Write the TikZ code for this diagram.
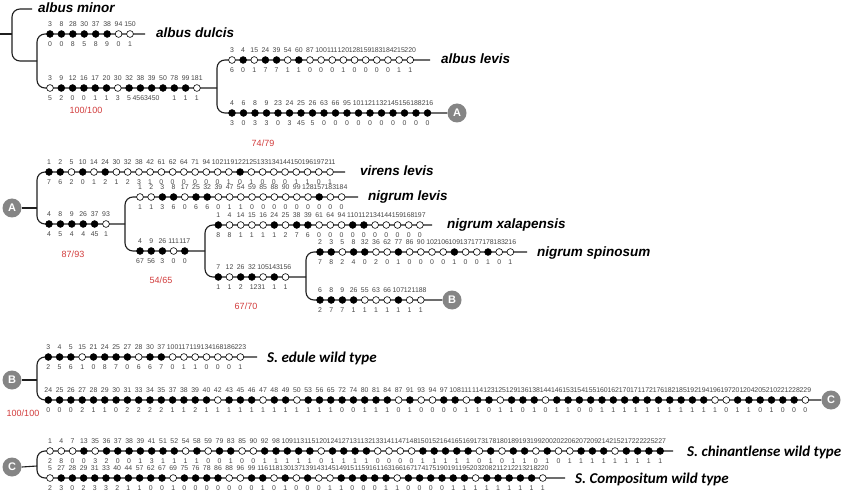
\documentclass[tikz,border=0pt]{standalone}
\usepackage{fontspec}
\newfontfamily\taxfont{Carlito}
\newfontfamily\numfont{Liberation Sans}
\usetikzlibrary{calc,backgrounds}
\colorlet{f}{black}
\colorlet{o}{white}
\definecolor{supred}{HTML}{D23C3C}
\definecolor{mkgray}{HTML}{858585}
\newcommand\crow[5]{%
  \foreach \ta/\tb/\tc [count=\i] in {#5} {%
    \pgfmathsetmacro\rowx{#2+(\i-1)*#4}%
    \node[num] (#1t\i) at (\rowx,{#3-9.5}) {\ta};
    \node[num] (#1b\i) at (\rowx,{#3+10}) {\tb};
    \node[dotn, fill=\tc] (#1d\i) at (\rowx,#3) {};
  }%
}
\tikzset{
  num/.style={font=\numfont\fontsize{6.9}{7}\selectfont, text=black!72, inner sep=0pt},
  dotn/.style={circle, draw=black, line width=0.6pt, inner sep=0pt, minimum size=6.8pt},
  br/.style={line width=1.1pt, draw=black!88},
  rc/.style={rounded corners=8pt},
  taxon/.style={font=\numfont\bfseries\itshape\fontsize{13.5}{16}\selectfont, anchor=base west, inner sep=0pt},
  taxs/.style={font=\taxfont\bfseries\itshape\fontsize{15}{18}\selectfont, anchor=base west, inner sep=0pt},
  supp/.style={font=\numfont\fontsize{9}{10}\selectfont, text=supred, inner sep=0pt},
  refmk/.style={circle, fill=mkgray, text=white, font=\numfont\bfseries\fontsize{11}{12}\selectfont, minimum size=19pt, inner sep=0pt},
}
\begin{document}
\begin{tikzpicture}[x=1pt,y=-1pt]
\useasboundingbox (0,0) rectangle (850,494);
\begin{scope}[on background layer]
\fill[white] (0,0) rectangle (850,494);
\end{scope}

% ---------------- tree 1
\coordinate (root) at (0,34);
\coordinate (minE) at (32,9);
\node[taxon] (minL) at (38,13) {albus minor};
\crow{dul}{50}{34}{11.43}{3/0/f,8/0/f,28/8/f,30/5/f,37/8/f,38/9/f,94/0/o,150/1/o}
\coordinate (dulE) at (145,34);
\node[taxon] (dulL) at (156,38) {albus dulcis};
\crow{low}{50}{88}{11.3}{3/5/o,9/2/f,12/0/f,16/0/f,17/1/f,20/1/f,30/3/o,32/5/f,38/{}/f,39/{}/f,50/{}/f,78/1/f,99/1/f,181/1/o}
\node[num] (lowX) at ($(lowb9)!0.5!(lowb10)$) {4563450};
\coordinate (lowE) at (217,88);
\node[supp] (s1) at (86,110) {100/100};
\crow{lev}{232}{60}{11.14}{3/6/o,4/0/f,15/1/o,24/7/f,39/7/f,54/1/o,60/1/f,87/0/o,100/0/o,111/0/o,120/1/o,128/0/o,159/0/o,183/0/o,184/0/o,215/1/o,220/1/o}
\coordinate (levE) at (430,60);
\node[taxon] (levL) at (441,64) {albus levis};
\crow{ar}{232}{113}{11.5}{4/3/f,6/0/f,8/3/f,9/3/f,23/0/f,24/3/f,25/45/f,26/5/f,63/0/f,66/0/f,95/0/f,101/0/f,121/0/f,132/0/f,145/0/f,156/0/f,188/0/f,216/0/f}
\node[refmk] (A1) at (457,113) {A};
\node[supp] (s2) at (263,143) {74/79};

% ---------------- tree 2
\node[refmk] (A2) at (12,208) {A};
\crow{vir}{49}{172}{11.24}{1/7/f,2/6/f,5/2/o,10/0/f,14/1/o,24/2/f,30/1/o,32/2/o,38/3/o,42/1/o,61/0/o,62/0/o,64/0/o,71/0/o,94/0/o,102/0/o,119/1/o,122/0/f,125/1/o,133/0/o,134/0/o,144/0/o,150/1/o,196/1/o,197/0/o,211/1/o}
\coordinate (virE) at (345,172);
\node[taxon] (virL) at (360,176) {virens levis};
\crow{tba}{49}{224}{11.4}{4/4/f,8/5/f,9/4/f,26/4/f,37/45/f,93/1/o}
\coordinate (tbaE) at (125,224);
\node[supp] (s3) at (73,254) {87/93};
\crow{nle}{140}{197}{11.2}{1/1/o,2/1/o,3/3/f,8/6/f,17/0/o,25/6/f,32/6/f,39/0/o,47/1/o,54/1/o,59/0/o,85/0/o,88/0/o,90/0/o,99/0/o,128/0/o,157/0/f,183/0/o,184/0/o}
\coordinate (nleE) at (358,197);
\node[taxon] (nleL) at (368,201) {nigrum levis};
\crow{tbb}{140}{251}{11.2}{4/67/f,9/56/f,26/3/f,111/0/o,117/0/f}
\coordinate (tbbE) at (205,251);
\node[supp] (s4) at (161,280) {54/65};
\crow{xal}{218.3}{225}{11.2}{1/8/f,4/8/o,14/1/o,15/1/o,16/1/o,24/1/f,25/2/o,38/7/f,39/6/f,61/0/o,64/0/o,94/0/o,110/0/f,112/0/f,134/0/o,144/0/o,159/0/o,168/0/o,197/0/o}
\coordinate (xalE) at (432,225);
\node[taxon] (xalL) at (447,229) {nigrum xalapensis};
\crow{tbc}{218.3}{277}{11.2}{7/1/f,12/1/o,26/2/f,32/{}/f,105/{}/o,143/1/f,156/1/o}
\node[num] (tbcX) at ($(tbcb4)!0.5!(tbcb5)$) {1231};
\coordinate (tbcE) at (306,277);
\node[supp] (s5) at (246,306) {67/70};
\crow{spi}{320}{252}{11.2}{2/7/f,3/8/f,5/2/o,8/4/f,32/0/f,36/2/o,62/0/o,77/1/f,86/0/o,90/0/o,102/0/o,106/0/o,109/1/f,137/0/o,177/0/o,178/1/f,183/0/o,216/1/o}
\coordinate (spiE) at (527,252);
\node[taxon] (spiL) at (537,256) {nigrum spinosum};
\crow{bro}{320}{300}{11.2}{6/2/f,8/7/f,9/7/f,26/1/f,55/1/o,63/1/o,66/1/o,107/1/f,121/1/o,188/1/o}
\node[refmk] (B1) at (452,300) {B};

% ---------------- tree 3
\node[refmk] (B2) at (12,380) {B};
\crow{edu}{48.3}{357}{11.3}{3/2/f,4/5/f,5/6/f,15/1/o,21/0/f,24/8/f,25/7/f,27/0/f,28/6/o,30/6/f,37/7/f,100/0/o,117/1/o,119/1/o,134/0/o,168/0/o,186/0/o,223/1/o}
\coordinate (eduE) at (257,357);
\node[taxs] (eduL) at (267,362) {S. edule wild type};
\crow{lng}{48.3}{400}{11.3}{24/0/f,25/0/f,26/0/f,27/2/f,28/1/f,29/1/f,30/0/f,31/2/f,33/2/f,34/2/f,35/2/f,37/1/f,38/1/f,39/2/f,40/1/f,42/1/o,43/1/f,45/1/f,46/1/f,47/1/o,48/1/f,49/1/f,50/1/o,53/1/f,56/1/f,65/1/f,72/0/f,74/0/f,80/1/f,81/1/f,84/1/f,87/0/o,91/1/f,93/0/o,94/0/o,97/0/f,108/0/f,111/1/o,114/1/f,123/0/f,125/1/o,129/1/f,136/0/f,138/1/f,144/0/o,146/1/f,153/1/f,154/0/f,155/0/f,160/1/f,162/1/f,170/1/f,171/1/f,172/1/f,176/1/f,182/1/f,185/1/f,192/1/f,194/1/f,196/1/o,197/0/o,201/1/f,204/1/f,205/0/f,210/1/f,221/0/f,228/0/f,229/0/o}
\node[refmk] (C1) at (831,400) {C};
\node[supp] (s6) at (23,413) {100/100};

% ---------------- tree 4
\node[refmk] (C2) at (12,467) {C};
\crow{chi}{50}{451}{11.3}{1/2/o,4/8/o,7/0/o,13/0/f,35/3/o,36/2/f,37/0/f,38/0/f,39/1/f,41/3/f,51/1/f,52/1/f,54/1/o,58/1/f,59/0/o,79/0/f,83/1/f,85/0/o,90/0/o,92/1/f,98/1/f,109/1/f,113/1/f,115/1/f,120/0/o,124/1/f,127/1/f,131/1/f,132/1/f,133/0/o,141/0/o,147/0/o,148/0/o,150/1/f,152/1/f,164/1/f,165/1/f,169/1/f,173/0/o,178/1/f,180/0/o,189/1/f,193/1/f,199/0/o,200/1/f,202/0/o,206/1/o,207/1/f,209/1/f,214/1/f,215/1/o,217/1/f,222/1/f,225/1/f,227/1/f}
\coordinate (chiE) at (673,451);
\node[taxs] (chiL) at (687,456) {S. chinantlense wild type};
\crow{com}{50}{478}{11.2}{5/2/o,27/3/f,28/0/f,29/2/f,31/3/f,33/3/f,40/2/f,44/1/f,57/1/f,62/0/f,67/0/f,69/1/o,75/0/f,76/0/f,78/0/f,86/0/f,88/0/o,96/0/o,99/0/f,116/1/f,118/0/o,130/1/f,137/0/o,139/0/f,143/0/o,145/1/o,149/1/f,151/0/f,159/0/f,161/0/f,163/1/f,166/1/o,167/0/f,174/0/f,175/0/f,190/0/f,191/1/f,195/1/f,203/1/o,208/1/f,211/1/f,212/1/f,213/1/f,218/1/f,220/1/o}
\coordinate (comE) at (565,478);
\node[taxs] (comL) at (575,483) {S. Compositum wild type};

% ---------------- branches (behind the dots)
\begin{scope}[on background layer]
\draw[br] (root) -- (12,34);
\draw[br,rc] (minE) -- (12,9) -- (12,61) -- (37,61);
\draw[br,rc] (dulE) -- (37,34) -- (37,88) -- (lowE);
\draw[br,rc] (levE) -- (217,60) -- (217,113) -- (A1.west);
\draw[br] (A2.east) -- (37,208);
\draw[br,rc] (virE) -- (37,172) -- (37,224) -- (tbaE);
\draw[br,rc] (nleE) -- (125,197) -- (125,251) -- (tbbE);
\draw[br,rc] (xalE) -- (205,225) -- (205,277) -- (tbcE);
\draw[br,rc] (spiE) -- (306,252) -- (306,300) -- (B1.west);
\draw[br] (B2.east) -- (37,380);
\draw[br,rc] (eduE) -- (37,357) -- (37,400) -- (C1.west);
\draw[br] (C2.east) -- (37,466);
\draw[br,rc] (chiE) -- (37,451) -- (37,478) -- (comE);
\end{scope}
\end{tikzpicture}
\end{document}
